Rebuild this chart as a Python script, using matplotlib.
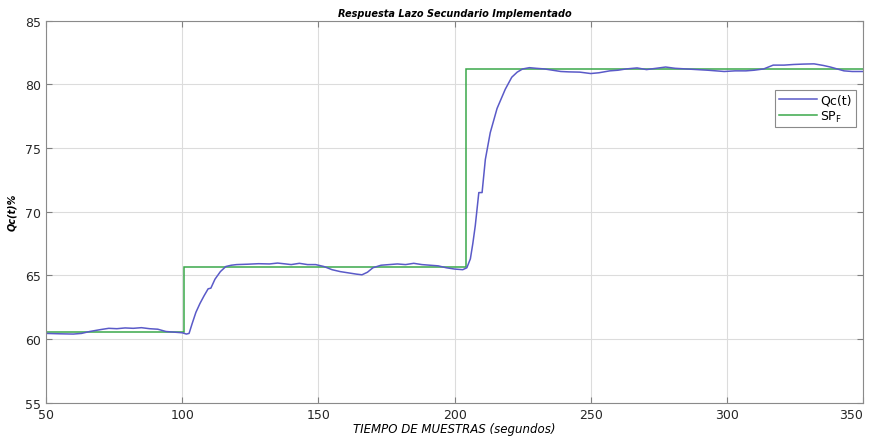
"""
Respuesta Lazo Secundario Implementado
"""
import matplotlib.pyplot as plt
import numpy as np

plt.rcParams['mathtext.default'] = 'regular'

t = [50, 55, 60, 63, 66, 70, 73, 76, 79, 82, 85, 88, 91, 94, 97, 100,
     101.5, 102.5, 103.6, 105, 106.5, 108, 109.5, 110.5, 112, 114, 116,
     118, 120, 124, 128, 132, 135, 138, 140, 143, 146, 149, 152, 155,
     158, 161, 164, 166, 168, 170, 173, 176, 179, 182, 185, 188, 191,
     194, 197, 200, 203, 204.5, 205.8, 206.7, 207.6, 208.9, 210.1, 211.3,
     213.1, 215.6, 218.6, 221, 223, 225, 227.5, 230, 233, 236, 239, 242,
     246, 250, 253, 257, 260, 263, 267, 270.5, 274, 277.5, 281, 285, 289,
     293, 296, 299, 303, 307, 310, 313.5, 317, 321, 324.5, 328, 332,
     335.5, 338, 340.5, 343, 346, 350]
qc = [60.45, 60.42, 60.4, 60.45, 60.6, 60.75, 60.85, 60.82, 60.88, 60.85,
      60.9, 60.82, 60.78, 60.6, 60.55, 60.5,
      60.4, 60.45, 61.2, 62.1, 62.8, 63.4, 63.95, 64.0, 64.7, 65.3, 65.7,
      65.8, 65.85, 65.88, 65.92, 65.9, 65.97, 65.9, 65.85, 65.95, 65.85,
      65.85, 65.7, 65.45, 65.3, 65.2, 65.1, 65.05, 65.25, 65.6, 65.8,
      65.85, 65.9, 65.85, 65.95, 65.85, 65.8, 65.75, 65.6, 65.5, 65.45,
      65.6, 66.3, 67.5, 68.9, 71.5, 71.5, 74.1, 76.2, 78.1, 79.6, 80.55,
      80.95, 81.2, 81.3, 81.25, 81.2, 81.1, 81.0, 80.97, 80.95, 80.84,
      80.9, 81.05, 81.1, 81.2, 81.28, 81.15, 81.25, 81.35, 81.25, 81.2,
      81.15, 81.1, 81.05, 81.0, 81.05, 81.05, 81.1, 81.2, 81.5, 81.5,
      81.55, 81.58, 81.6, 81.47, 81.35, 81.2, 81.05, 81.0, 81.0]

# set point SP_F: change times and levels
sp_edges = [50, 100.7, 204.3, 350]
sp_levels = [60.6, 65.65, 81.2]

fig = plt.figure(figsize=(8.7, 4.39), dpi=100)
ax = fig.add_axes([0.053, 0.08, 0.939, 0.871])

ax.plot(t, qc, color='#5a5ac8', lw=1.1, label='Qc(t)')
ax.stairs(sp_levels, sp_edges, baseline=None, color='#3aa84a', lw=1.1,
          label='SP$_F$')

ax.set_xlim(50, 350)
ax.set_ylim(55, 85)
ax.set_xticks(np.arange(50, 351, 50))
ax.set_yticks(np.arange(55, 86, 5))
ax.grid(True, color='#dcdcdc', lw=0.8)
ax.set_axisbelow(True)
ax.tick_params(direction='in', length=4, color='#808080', labelsize=9,
               top=True, right=True, labelcolor='#262626')
# keep the last x label inside the picture
ax.get_xticklabels()[-1].set_horizontalalignment('right')
for s in ax.spines.values():
    s.set_color('#8a8a8a')
    s.set_linewidth(0.8)

ax.set_title('Respuesta Lazo Secundario Implementado', fontsize=7,
             style='italic', fontweight='bold', pad=3)
ax.set_xlabel('TIEMPO DE MUESTRAS (segundos)', fontsize=8.5,
              style='italic', labelpad=1)
ax.set_ylabel('Qc(t)%', fontsize=7, style='italic', fontweight='bold',
              labelpad=6)

leg = ax.legend(loc='upper right', bbox_to_anchor=(0.9985, 0.835),
                fontsize=9, handlelength=3.0, handletextpad=0.3,
                borderpad=0.3, labelspacing=0.15, fancybox=False,
                framealpha=1)
leg.get_frame().set_edgecolor('#8a8a8a')
leg.get_frame().set_linewidth(0.8)

fig.savefig('out.png', dpi=100)
